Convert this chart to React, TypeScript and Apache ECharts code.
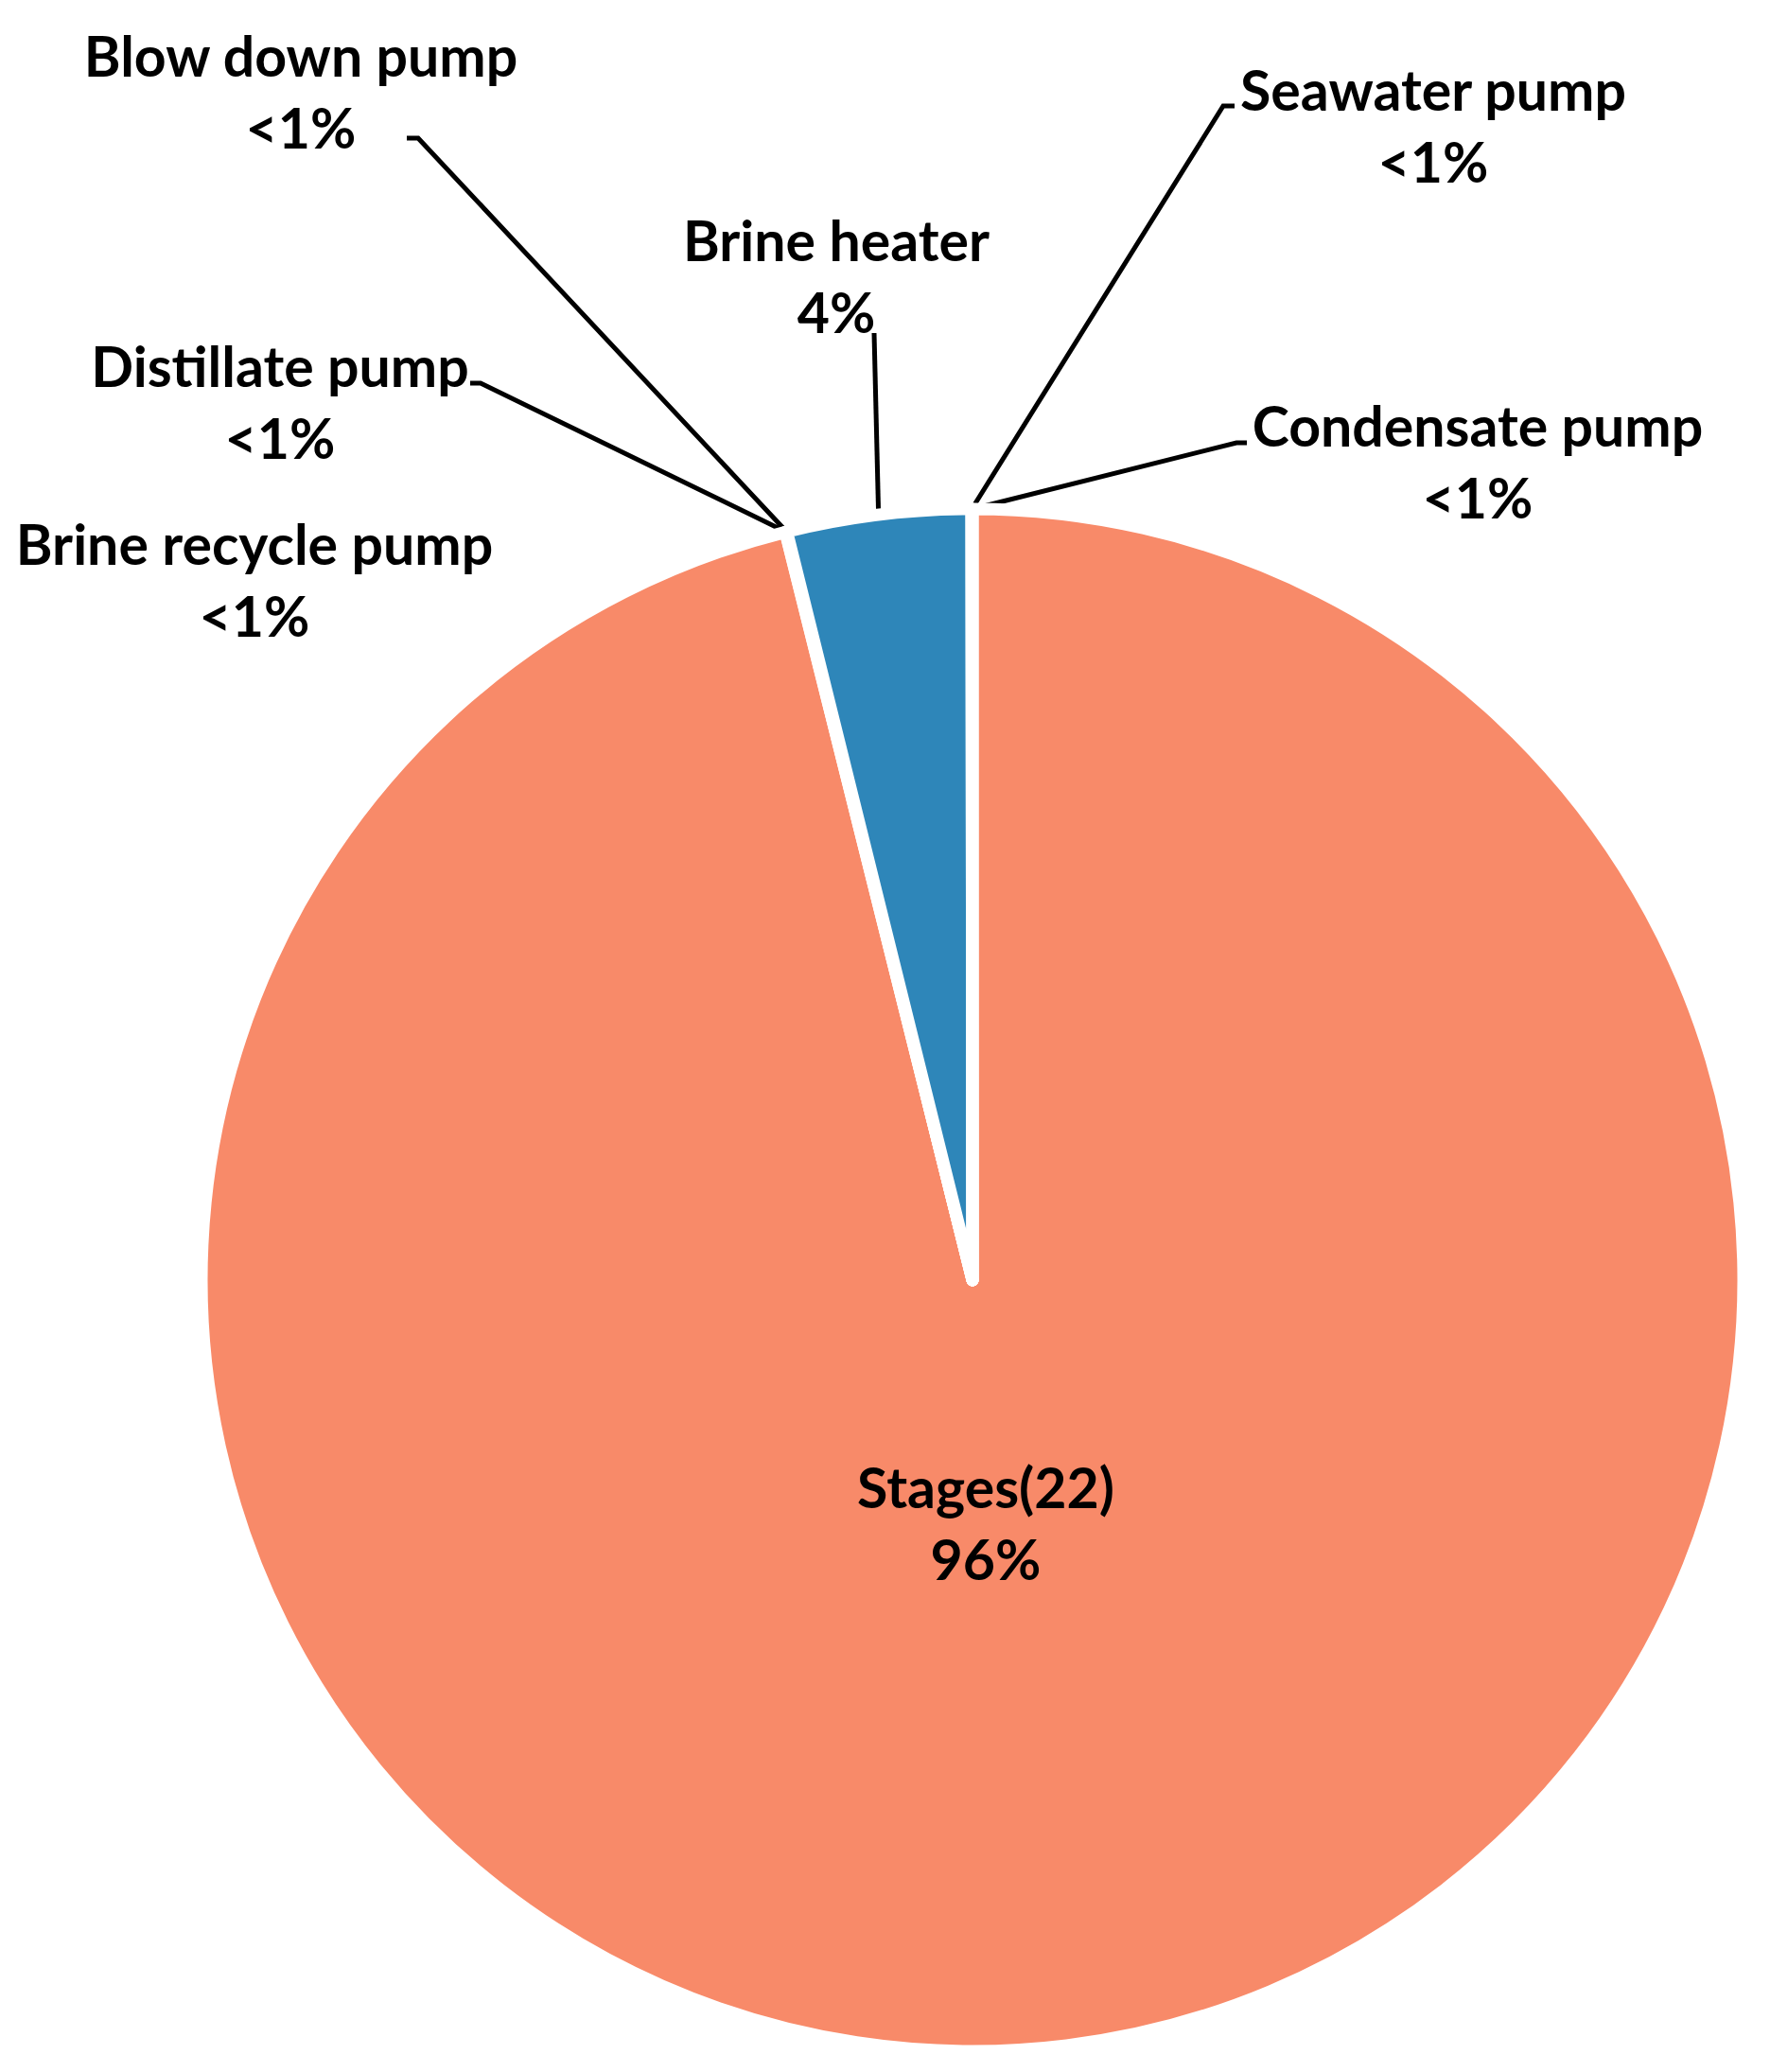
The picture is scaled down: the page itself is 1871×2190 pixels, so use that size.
import React, { useEffect, useRef } from "react";
import * as echarts from "echarts";

// Data (percent of total)
const categories = [
  "Stages(22)",
  "Brine recycle pump",
  "Distillate pump",
  "Blow down pump",
  "Brine heater",
  "Seawater pump",
  "Condensate pump",
];
const shares = [96.1, 0.01, 0.01, 0.01, 3.85, 0.01, 0.01];

const SALMON = "#F88A69";
const BLUE = "#2E86B9";
const sliceColors = [SALMON, SALMON, SALMON, SALMON, BLUE, SALMON, SALMON];

// label block centres (px) and leader-line elbows (annotation layout)
const labelCenters: number[][] = [
  [1042, 1609],
  [269, 612],
  [296, 424],
  [318, 96],
  [884, 291],
  [1515, 132],
  [1562, 487],
];
const lineElbows: (number[][] | null)[] = [
  null,
  null,
  [[508, 405], [497, 405]],
  [[442, 146], [430, 146]],
  [[924, 352]],
  [[1293, 112], [1305, 112]],
  [[1307, 468], [1318, 468]],
];
const showLine = [false, false, true, true, true, true, true];

export default function App() {
  const ref = useRef<HTMLDivElement>(null);
  useEffect(() => {
    if (!ref.current) return;
    const chart = echarts.init(ref.current, null, { renderer: "svg" });
    chart.setOption({
      animation: false,
      backgroundColor: "#ffffff",
      series: [
        {
          type: "pie",
          center: [1028, 1353],
          radius: 815,
          startAngle: 90,
          clockwise: true,
          avoidLabelOverlap: false,
          itemStyle: { borderColor: "#ffffff", borderWidth: 13 },
          label: {
            show: true,
            position: "outside",
            color: "#000000",
            fontFamily: "Lato",
            fontWeight: "bold",
            fontSize: 59,
            lineHeight: 76,
            align: "center",
            formatter: (p: any) =>
              p.name + "\n" + (p.percent < 1 ? "<1%" : Math.round(p.percent) + "%"),
          },
          labelLine: {
            show: true,
            smooth: false,
            lineStyle: { color: "#000000", width: 5 },
          },
          labelLayout: (p: any) => {
            const c = labelCenters[p.dataIndex];
            const out: any = { x: c[0], y: c[1], align: "center", verticalAlign: "middle" };
            const elbow = lineElbows[p.dataIndex];
            if (elbow && p.labelLinePoints) {
              out.labelLinePoints = [p.labelLinePoints[0], ...elbow];
            }
            return out;
          },
          data: categories.map((name, i) => ({
            name,
            value: shares[i],
            itemStyle: { color: sliceColors[i] },
            labelLine: { show: showLine[i] },
          })),
        },
      ],
    });
    return () => chart.dispose();
  }, []);
  return (
    <div
      ref={ref}
      style={{ position: "absolute", left: 0, top: 0, width: 1871, height: 2190 }}
    />
  );
}
